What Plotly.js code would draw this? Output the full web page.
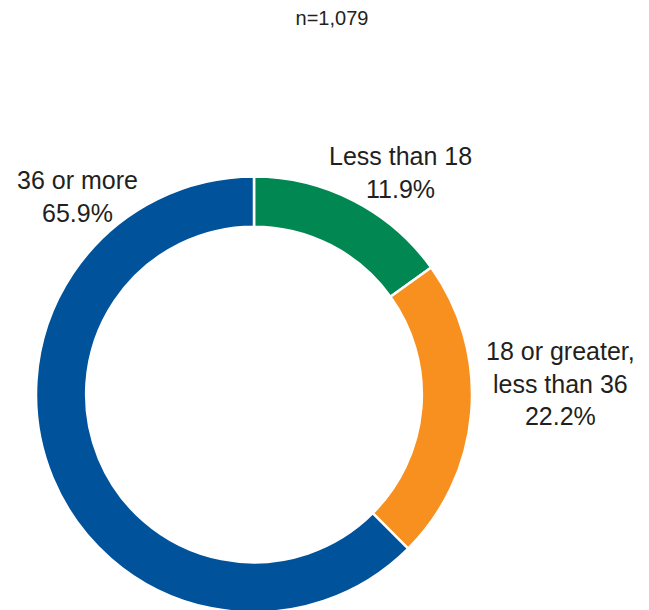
<!DOCTYPE html>
<html>
<head>
<meta charset="utf-8">
<script src="https://cdn.plot.ly/plotly-3.0.1.min.js"></script>
<style>
  html, body { margin: 0; padding: 0; overflow: hidden; background: #fff; }
  #chart { width: 649px; height: 640px; }
</style>
</head>
<body>
<div id="chart"></div>
<script>
// Categories in clockwise order from 12 o'clock
const categories = ["Less than 18", "18 or greater,<br>less than 36", "36 or more"];
// Slice shares as drawn in the reference picture
const shares = [15.1, 22.4, 62.5];
// Percentages as printed in the labels
const pctLabels = ["11.9%", "22.2%", "65.9%"];
const colors = ["#008752", "#F7901E", "#00539B"];
const sampleNote = "n=1,079";

const W = 649, H = 640;
// label anchor positions in pixels (text layout only)
const labelPos = [[400, 172], [560, 383], [77, 196]];

const trace = {
  type: "pie",
  values: shares,
  labels: categories,
  marker: { colors: colors, line: { color: "#ffffff", width: 2.5 } },
  hole: 0.77,
  sort: false,
  direction: "clockwise",
  rotation: 0,
  textinfo: "none",
  hoverinfo: "none",
  showlegend: false,
  domain: { x: [36 / W, 472 / W], y: [(H - 612.5) / H, (H - 176.5) / H] }
};

const annotations = categories.map((c, i) => ({
  text: c + "<br>" + pctLabels[i],
  xref: "paper", yref: "paper",
  x: labelPos[i][0] / W, y: 1 - labelPos[i][1] / H,
  xanchor: "center", yanchor: "middle",
  align: "center",
  showarrow: false,
  font: { family: "Liberation Sans, Arial, sans-serif", size: 25, color: "#231f20" }
}));

const layout = {
  width: W, height: H,
  margin: { l: 0, r: 0, t: 0, b: 0 },
  paper_bgcolor: "#ffffff",
  plot_bgcolor: "#ffffff",
  title: {
    text: sampleNote,
    x: 332 / W, y: 1 - 18 / H,
    xanchor: "center", yanchor: "middle",
    font: { family: "Liberation Sans, Arial, sans-serif", size: 20, color: "#231f20" }
  },
  annotations: annotations
};

Plotly.newPlot("chart", [trace], layout, { displayModeBar: false, staticPlot: true });
</script>
</body>
</html>
